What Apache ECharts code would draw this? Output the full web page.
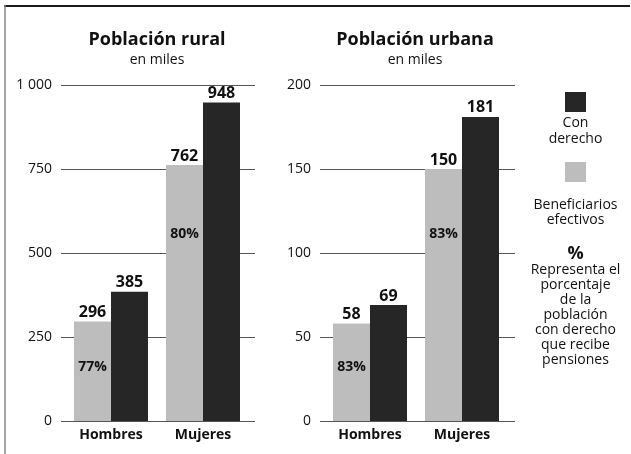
<!DOCTYPE html>
<html>
<head>
<meta charset="utf-8">
<script src="https://cdn.jsdelivr.net/npm/echarts@6/dist/echarts.min.js"></script>
<style>
  html, body { margin: 0; padding: 0; background: #fff; }
  #chart { width: 631px; height: 454px; }
</style>
</head>
<body>
<div id="chart"></div>
<script>
const categories = ["Hombres", "Mujeres"]

// población rural, en miles
const ruralBeneficiarios = [296, 762]
const ruralConDerecho = [385, 948]
const ruralPct = ["77%", "80%"]

// población urbana, en miles
const urbanaBeneficiarios = [58, 150]
const urbanaConDerecho = [69, 181]
const urbanaPct = ["83%", "83%"]

const ruralAxis = { min: 0, max: 1000, interval: 250 }
const urbanaAxis = { min: 0, max: 200, interval: 50 }

const FONT = "'Open Sans', 'Noto Sans', sans-serif"
const GRAY = "#bdbdbd"
const DARK = "#262626"
const BAR_W = 37
const PCT_LIFT = [54, 187] // px above the baseline, per category

const chart = echarts.init(document.getElementById("chart"))

const lineGrid = (left, width) => ({ left, width, top: 85, height: 336 })

const valueAxis = (gridIndex, range, showLabels) => ({
  type: "value",
  gridIndex,
  min: range.min,
  max: range.max,
  interval: range.interval,
  show: showLabels,
  axisLine: { show: false },
  axisTick: { show: false },
  axisLabel: {
    margin: 9,
    color: "#111",
    fontFamily: FONT,
    fontSize: 14,
    formatter: v => v >= 1000 ? String(v).replace(/\B(?=(\d{3})+(?!\d))/g, " ") : String(v)
  },
  splitLine: { show: showLabels, lineStyle: { color: "#555", width: 1 } }
})

const catAxis = (gridIndex) => ({
  type: "category",
  gridIndex,
  data: categories,
  axisLine: { show: false },
  axisTick: { show: false },
  axisLabel: { margin: 7, color: "#111", fontFamily: FONT, fontSize: 14, fontWeight: "bold" }
})

const barSeries = (name, axisIndex, data, color) => ({
  name,
  type: "bar",
  xAxisIndex: axisIndex,
  yAxisIndex: axisIndex,
  data,
  barWidth: BAR_W,
  barGap: "0%",
  itemStyle: { color },
  label: {
    show: true,
    position: "top",
    distance: 1,
    color: "#111",
    fontFamily: FONT,
    fontSize: 16,
    fontWeight: "bold"
  },
  emphasis: { disabled: true }
})

// percentage labels sit on the grey bar, anchored at the category baseline
const pctSeries = (axisIndex, pct) => ({
  type: "scatter",
  xAxisIndex: axisIndex,
  yAxisIndex: axisIndex,
  silent: true,
  symbolSize: 1,
  itemStyle: { color: "transparent", opacity: 1 },
  data: pct.map((p, i) => ({
    value: [i, 0],
    label: { offset: [-BAR_W / 2, -PCT_LIFT[i]] }
  })),
  label: {
    show: true,
    position: "inside",
    formatter: p => pct[p.dataIndex],
    color: "#111",
    opacity: 1,
    textBorderWidth: 0,
    fontFamily: FONT,
    fontSize: 14,
    fontWeight: "bold"
  },
  emphasis: { disabled: true },
  z: 5
})

const titleStyle = { color: "#111", fontFamily: FONT, fontSize: 18, fontWeight: "bold" }
const subStyle = { color: "#111", fontFamily: FONT, fontSize: 14 }

chart.setOption({
  animation: false,
  title: [
    { text: "Población rural", subtext: "en miles", left: 152, top: 26, textAlign: "center", itemGap: 4, textStyle: titleStyle, subtextStyle: subStyle },
    { text: "Población urbana", subtext: "en miles", left: 410, top: 26, textAlign: "center", itemGap: 4, textStyle: titleStyle, subtextStyle: subStyle }
  ],
  legend: {
    data: ["Con derecho", "Beneficiarios efectivos"],
    orient: "vertical",
    left: 565,
    top: 92,
    padding: 0,
    itemWidth: 21,
    itemHeight: 20,
    itemGap: 50,
    icon: "rect",
    selectedMode: false,
    formatter: () => "",
    textStyle: { fontSize: 1 }
  },
  grid: [
    lineGrid(61, 194),
    lineGrid(65, 184),
    lineGrid(320, 195),
    lineGrid(324, 184)
  ],
  xAxis: [
    { type: "value", gridIndex: 0, min: 0, max: 1, show: false },
    catAxis(1),
    { type: "value", gridIndex: 2, min: 0, max: 1, show: false },
    catAxis(3)
  ],
  yAxis: [
    valueAxis(0, ruralAxis, true),
    valueAxis(1, ruralAxis, false),
    valueAxis(2, urbanaAxis, true),
    valueAxis(3, urbanaAxis, false)
  ],
  series: [
    barSeries("Beneficiarios efectivos", 1, ruralBeneficiarios, GRAY),
    barSeries("Con derecho", 1, ruralConDerecho, DARK),
    pctSeries(1, ruralPct),
    barSeries("Beneficiarios efectivos", 3, urbanaBeneficiarios, GRAY),
    barSeries("Con derecho", 3, urbanaConDerecho, DARK),
    pctSeries(3, urbanaPct)
  ],
  graphic: [
    { type: "line", shape: { x1: 4, y1: 6, x2: 630, y2: 6 }, style: { stroke: "#1a1a1a", lineWidth: 2 }, silent: true },
    { type: "line", shape: { x1: 5, y1: 5, x2: 5, y2: 454 }, style: { stroke: "#888", lineWidth: 1.5 }, silent: true },
    { type: "text", x: 575.5, y: 115, style: { text: "Con\nderecho", fill: "#111", fontFamily: FONT, fontSize: 14, lineHeight: 16, align: "center" } },
    { type: "text", x: 575.5, y: 197, style: { text: "Beneficiarios\nefectivos", fill: "#111", fontFamily: FONT, fontSize: 14, lineHeight: 15.5, align: "center" } },
    { type: "text", x: 575.5, y: 245, style: { text: "%", fill: "#111", fontFamily: FONT, fontSize: 18, fontWeight: "bold", align: "center" } },
    { type: "text", x: 575.5, y: 263, style: { text: "Representa el\nporcentaje\nde la\npoblación\ncon derecho\nque recibe\npensiones", fill: "#111", fontFamily: FONT, fontSize: 14, lineHeight: 15, align: "center" } }
  ]
})
</script>
</body>
</html>
